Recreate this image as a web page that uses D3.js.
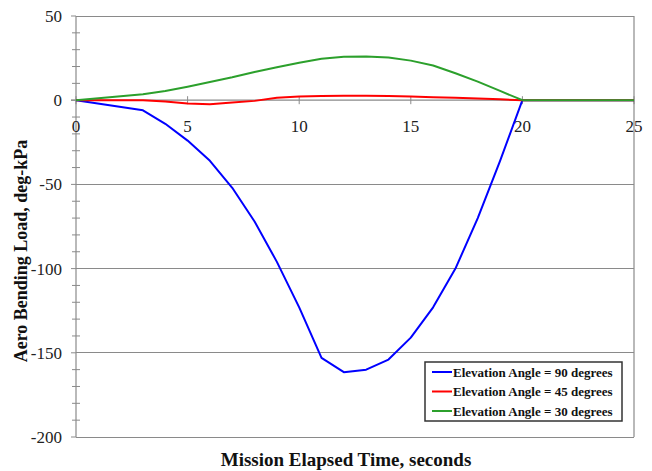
<!DOCTYPE html>
<html>
<head>
<meta charset="utf-8">
<script src="https://cdn.jsdelivr.net/npm/d3@7"></script>
<style>
  html, body { margin: 0; padding: 0; background: #fff; }
  svg { display: block; }
  text { font-family: "Liberation Serif", "Times New Roman", serif; }
</style>
</head>
<body>
<svg id="chart" width="652" height="471"></svg>
<script>
// Mission elapsed time (s) at which the loads were evaluated
const timeSec = [0, 3, 4, 5, 6, 7, 8, 9, 10, 11, 12, 13, 14, 15, 16, 17, 18, 19, 20, 25];

// Aero bending load (deg-kPa) for each elevation angle
const load90 = [0, -6, -14, -24, -36, -52, -72, -96, -123, -153, -161.5, -160, -154, -141, -123, -100, -70, -36, 0, 0];
const load45 = [0, 0, -0.8, -2, -2.4, -1.4, -0.4, 1.4, 2.2, 2.5, 2.6, 2.6, 2.5, 2.2, 1.8, 1.4, 1, 0.5, 0, 0];
const load30 = [0, 3.5, 5.5, 8, 10.8, 13.6, 16.8, 19.6, 22.2, 24.6, 25.8, 26, 25.4, 23.5, 20.6, 16, 11, 5.5, 0, 0];

const seriesNames = ["Elevation Angle = 90 degrees", "Elevation Angle = 45 degrees", "Elevation Angle = 30 degrees"];
const seriesColors = ["#0000ff", "#ff0000", "#2ca02c"];

const xTicks = [0, 5, 10, 15, 20, 25];
const yTicks = [50, 0, -50, -100, -150, -200];

const svg = d3.select("#chart");
const plot = { left: 76, right: 634, top: 16, bottom: 437 };

const x = d3.scaleLinear().domain([0, 25]).range([plot.left, plot.right]);
const y = d3.scaleLinear().domain([-200, 50]).range([plot.bottom, plot.top]);

const gridColor = "#8a8a8a";

// Horizontal gridlines at major y values
svg.append("g").selectAll("line")
  .data(yTicks.filter(v => v !== 0))
  .join("line")
  .attr("x1", plot.left).attr("x2", plot.right)
  .attr("y1", d => y(d)).attr("y2", d => y(d))
  .attr("stroke", gridColor).attr("stroke-width", 1)
  .attr("shape-rendering", "crispEdges");

// Right border of the plot area
svg.append("line")
  .attr("x1", plot.right).attr("x2", plot.right)
  .attr("y1", plot.top).attr("y2", plot.bottom)
  .attr("stroke", gridColor).attr("stroke-width", 1.2);

// Y axis with major labels and minor cross ticks every 10
const yAxisG = svg.append("g").attr("transform", `translate(${plot.left},0)`);
yAxisG.append("line")
  .attr("x1", 0).attr("x2", 0).attr("y1", plot.top).attr("y2", plot.bottom)
  .attr("stroke", gridColor).attr("stroke-width", 1.2);
yAxisG.selectAll("line.minor")
  .data(d3.range(-190, 50, 10).filter(v => v % 50 !== 0))
  .join("line").attr("class", "minor")
  .attr("x1", -4).attr("x2", 4)
  .attr("y1", d => y(d)).attr("y2", d => y(d))
  .attr("stroke", gridColor).attr("stroke-width", 1);
yAxisG.selectAll("line.major")
  .data(yTicks)
  .join("line").attr("class", "major")
  .attr("x1", -5).attr("x2", 0)
  .attr("y1", d => y(d)).attr("y2", d => y(d))
  .attr("stroke", gridColor).attr("stroke-width", 1);
yAxisG.selectAll("text")
  .data(yTicks)
  .join("text")
  .attr("x", -14).attr("y", d => y(d))
  .attr("dy", "0.35em")
  .attr("text-anchor", "end")
  .attr("font-size", 17)
  .attr("fill", "#222")
  .text(d => d);

// X axis drawn along zero load
const xAxisG = svg.append("g").attr("transform", `translate(0,${y(0)})`);
xAxisG.append("line")
  .attr("x1", plot.left - 5).attr("x2", plot.right)
  .attr("stroke", gridColor).attr("stroke-width", 1.2);
xAxisG.selectAll("line.tick")
  .data(xTicks)
  .join("line").attr("class", "tick")
  .attr("x1", d => x(d)).attr("x2", d => x(d))
  .attr("y1", -4).attr("y2", 4)
  .attr("stroke", gridColor).attr("stroke-width", 1);
xAxisG.selectAll("text")
  .data(xTicks)
  .join("text")
  .attr("x", d => x(d)).attr("y", 26)
  .attr("dy", "0.35em")
  .attr("text-anchor", "middle")
  .attr("font-size", 17)
  .attr("fill", "#222")
  .text(d => d);

// Load curves
const line = d3.line().x(d => x(d[0])).y(d => y(d[1]));
const allSeries = [load90, load45, load30];
// 90 first, then 45, then 30 so green sits on top along the zero line
svg.append("g").selectAll("path")
  .data(allSeries)
  .join("path")
  .attr("d", vals => line(timeSec.map((t, i) => [t, vals[i]])))
  .attr("fill", "none")
  .attr("stroke", (d, i) => seriesColors[i])
  .attr("stroke-width", 2)
  .attr("stroke-linejoin", "round");

// Axis titles
svg.append("text")
  .attr("x", 346).attr("y", 466)
  .attr("text-anchor", "middle")
  .attr("font-size", 19).attr("font-weight", "bold")
  .attr("fill", "#111")
  .text("Mission Elapsed Time, seconds");

svg.append("text")
  .attr("transform", "translate(27,251) rotate(-90)")
  .attr("text-anchor", "middle")
  .attr("font-size", 18).attr("font-weight", "bold")
  .attr("fill", "#111")
  .text("Aero Bending Load, deg-kPa");

// Legend
const legend = svg.append("g").attr("transform", "translate(425,362)");
legend.append("rect")
  .attr("width", 197).attr("height", 59)
  .attr("fill", "#fff").attr("stroke", "#333").attr("stroke-width", 1.5);
const rows = legend.selectAll("g.row")
  .data(seriesNames)
  .join("g").attr("class", "row")
  .attr("transform", (d, i) => `translate(0,${10 + i * 19.5})`);
rows.append("line")
  .attr("x1", 7).attr("x2", 27)
  .attr("stroke", (d, i) => seriesColors[i]).attr("stroke-width", 2);
rows.append("text")
  .attr("x", 28).attr("dy", "0.35em")
  .attr("font-size", 13).attr("font-weight", "bold")
  .attr("fill", "#111")
  .text(d => d);
</script>
</body>
</html>
